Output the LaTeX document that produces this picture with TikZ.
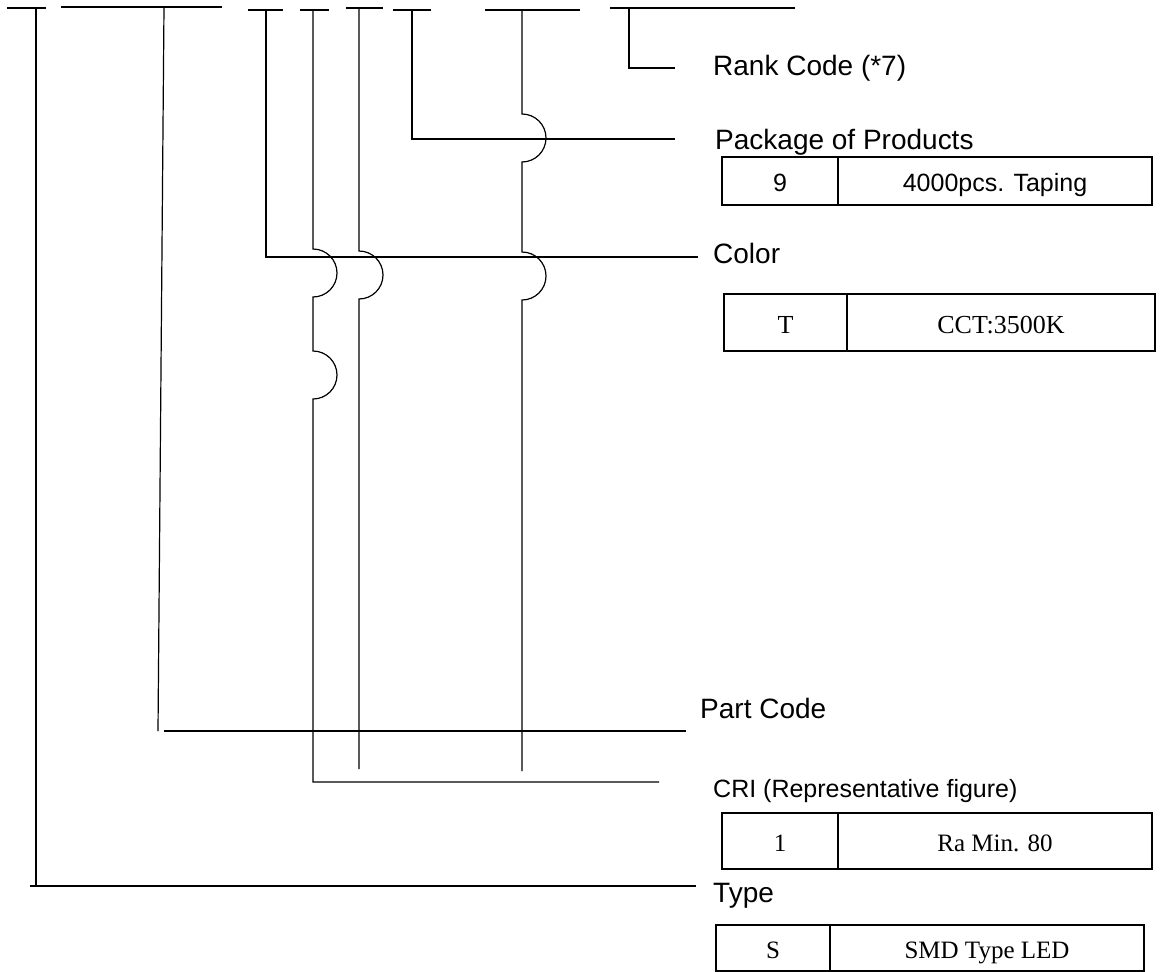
\documentclass[tikz,border=0pt]{standalone}
\usepackage{fontspec}
\setmainfont{Liberation Serif}
\setsansfont{Liberation Sans}
\usetikzlibrary{positioning}

\begin{document}
\begin{tikzpicture}[
  x=1pt, y=-1pt,
  wire/.style={line width=1.2pt},
  lbl/.style={anchor=base west, inner sep=0pt, font=\sffamily\fontsize{28}{32}\selectfont},
  cell/.style={draw, line width=2pt, outer sep=0pt, inner sep=0pt, text height=21pt, text depth=0pt},
  sfcell/.style={cell, font=\sffamily\fontsize{25}{30}\selectfont},
  rmcell/.style={cell, font=\rmfamily\fontsize{25}{30}\selectfont}
]
\useasboundingbox (0,0) rectangle (1160,972);

% code bars on top
\draw[wire] (7,8) -- (46,8);
\draw[wire] (61,7) -- (222,7);
\draw[wire] (248,10) -- (283,10);
\draw[wire] (300,10) -- (329,10);
\draw[wire] (346,8) -- (383,8);
\draw[wire] (393,10) -- (431,10);
\draw[wire] (485,10) -- (580,10);
\draw[wire] (610,8) -- (795,8);
\coordinate (s1) at (36,8);
\coordinate (s2) at (164,7);
\coordinate (s3) at (266,10);
\coordinate (s4) at (313,10);
\coordinate (s5) at (359,8);
\coordinate (s6) at (412,10);
\coordinate (s7) at (522,10);
\coordinate (s8) at (629,8);

% labels
\node[lbl] (rank) at (713,75) {Rank Code (*7)};
\node[lbl] (pack) at (715,149) {Package of Products};
\node[lbl] (color) at (713,263) {Color};
\node[lbl] (part) at (700,718) {Part Code};
\node[lbl, font=\sffamily\fontsize{25}{30}\selectfont] (cri) at (713,797) {CRI (Representative figure)};
\node[lbl] (type) at (713,902) {Type};

% line ends
\coordinate (e-rank) at (675,68);
\coordinate (e-pack) at (675,139);
\coordinate (e-color) at (698,257);
\coordinate (e-part) at (686,731);
\coordinate (e-cri) at (659,782);
\coordinate (e-type) at (696,886);

% leaders
\draw[wire] (s8) |- (e-rank);
\draw[wire] (s6) |- (e-pack);
\draw[wire] (s3) |- (e-color);
\draw[wire] (s2) -- (158,731);
\draw[wire] (164,731) -- (e-part);
\draw[wire] (s1) -- (36,886);
\draw[wire] (30,886) -- (e-type);
\draw[wire] (s4) -- (313,249) arc[start angle=90, end angle=-90, radius=24pt]
  -- (313,351) arc[start angle=90, end angle=-90, radius=24pt] |- (e-cri);
\draw[wire] (s5) -- (359,251) arc[start angle=90, end angle=-90, radius=24pt] -- (359,769);
\draw[wire] (s7) -- (522,114) arc[start angle=90, end angle=-90, radius=24pt]
  -- (522,252) arc[start angle=90, end angle=-90, radius=24pt] -- (522,771);

% tables
\node[sfcell, anchor=north west, minimum width=116pt, minimum height=48pt] (pk-k) at (722,157) {9};
\node[sfcell, right=0pt of pk-k, minimum width=314pt, minimum height=48pt] (pk-v) {4000pcs. Taping};
\node[rmcell, font=\rmfamily\fontsize{26}{30}\selectfont, anchor=north west, minimum width=123pt, minimum height=57pt] (co-k) at (724,294) {T};
\node[rmcell, font=\rmfamily\fontsize{26}{30}\selectfont, right=0pt of co-k, minimum width=308pt, minimum height=57pt] (co-v) {CCT:3500K};
\node[rmcell, anchor=north west, minimum width=116pt, minimum height=56pt] (cr-k) at (722,813) {1};
\node[rmcell, right=0pt of cr-k, minimum width=314pt, minimum height=56pt] (cr-v) {Ra Min. 80};
\node[rmcell, anchor=north west, minimum width=114pt, minimum height=46pt] (ty-k) at (716,925) {S};
\node[rmcell, right=0pt of ty-k, minimum width=314pt, minimum height=46pt] (ty-v) {SMD Type LED};
\end{tikzpicture}
\end{document}
